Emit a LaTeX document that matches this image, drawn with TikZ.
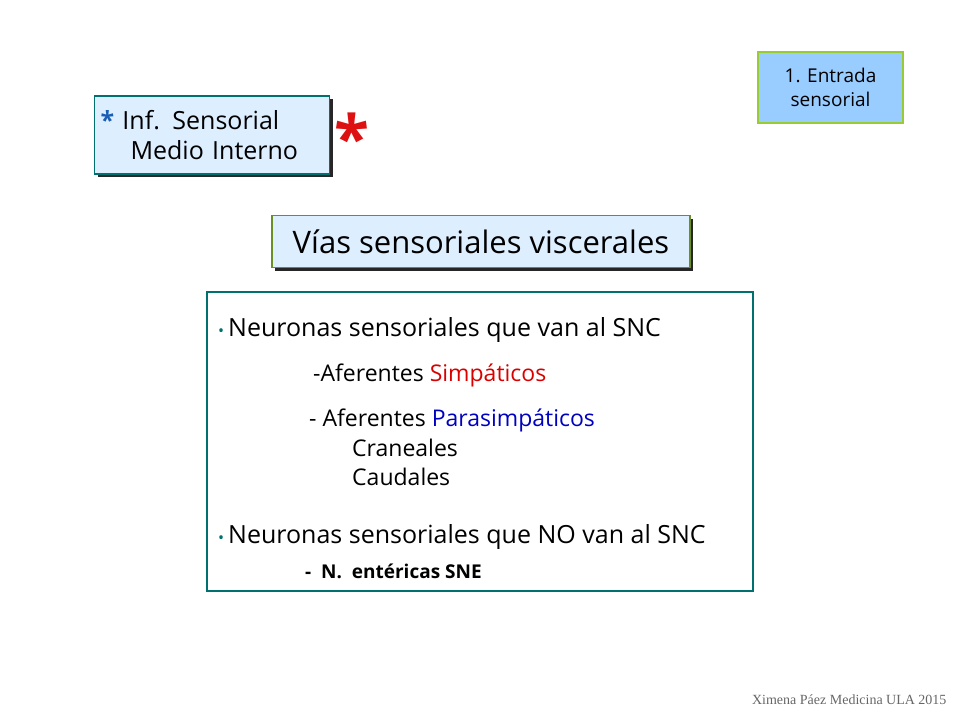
\documentclass[tikz,border=0pt]{standalone}
\usepackage{fontspec}
\setmainfont{Open Sans}
\newfontfamily\footfont{Liberation Serif}
\usetikzlibrary{positioning,shadows}
\definecolor{tealline}{HTML}{007070}
\definecolor{paleblue}{HTML}{DDEEFF}
\definecolor{skyblue}{HTML}{99CCFF}
\definecolor{leafgreen}{HTML}{99CC33}
\definecolor{redstar}{HTML}{DD1111}
\definecolor{bluestar}{HTML}{1A5FB4}
\tikzset{
  titlebox/.style={draw=tealline, line width=1.5pt, fill=paleblue, drop shadow={shadow xshift=3pt, shadow yshift=-3pt, fill=black!85, opacity=1}},
  item/.style={anchor=west, inner sep=0pt},
}
\begin{document}
\begin{tikzpicture}[x=1pt, y=-1pt]
  \useasboundingbox (0,0) rectangle (960,720);
  % top right tag
  \node[draw=leafgreen, line width=1.5pt, fill=skyblue, minimum width=145pt, minimum height=71pt, align=center,
    font=\fontsize{19}{24}\selectfont] (entrada) at (830.5,87.5) {1. Entrada\\sensorial};
  % medio interno
  \node[titlebox, minimum width=235pt, minimum height=78pt, text width=223pt, align=left,
    font=\fontsize{25}{30}\selectfont] (medio) at (212,135)
    {\textcolor{bluestar}{\bfseries *} Inf. Sensorial\\\hspace*{30pt}Medio Interno};
  \node[right=1pt of medio, text=redstar, font=\fontsize{64}{64}\selectfont\bfseries, yshift=-2pt] (star) {*};
  % title
  \node[titlebox, draw=leafgreen!70!black, minimum width=418pt, minimum height=52pt,
    font=\fontsize{31}{36}\selectfont] (vias) at (481,241.5) {Vías sensoriales viscerales};
  % content box
  \draw[tealline, line width=1.5pt] (207,292) rectangle (753,591);
  \begin{scope}[font=\fontsize{25}{29}\selectfont]
    \node[item] (n1) at (218,330) {\textcolor{tealline}{\fontsize{16}{16}\selectfont\textbullet}\hspace{4pt}Neuronas sensoriales que van al SNC};
    \node[item, font=\fontsize{23}{27}\selectfont] (simp) at (313,375) {-Aferentes \textcolor{red!85!black}{Simpáticos}};
    \node[item, font=\fontsize{23}{27}\selectfont] (para) at (309,420) {- Aferentes \textcolor{blue!75!black}{Parasimpáticos}};
    \node[item, font=\fontsize{23}{27}\selectfont] (cran) at (352,448) {Craneales};
    \node[item, font=\fontsize{23}{27}\selectfont] (caud) at (352,477) {Caudales};
    \node[item] (n2) at (218,537) {\textcolor{tealline}{\fontsize{16}{16}\selectfont\textbullet}\hspace{4pt}Neuronas sensoriales que NO van al SNC};
    \node[item, font=\fontsize{19}{23}\selectfont\bfseries] (sne) at (305,571) {-\ \ N.\ \ entéricas SNE};
  \end{scope}
  % footer
  \node[anchor=east, font=\footfont\fontsize{14}{16}\selectfont, text=black!60] (foot) at (950,700) {Ximena Páez Medicina ULA 2015};
\end{tikzpicture}
\end{document}
